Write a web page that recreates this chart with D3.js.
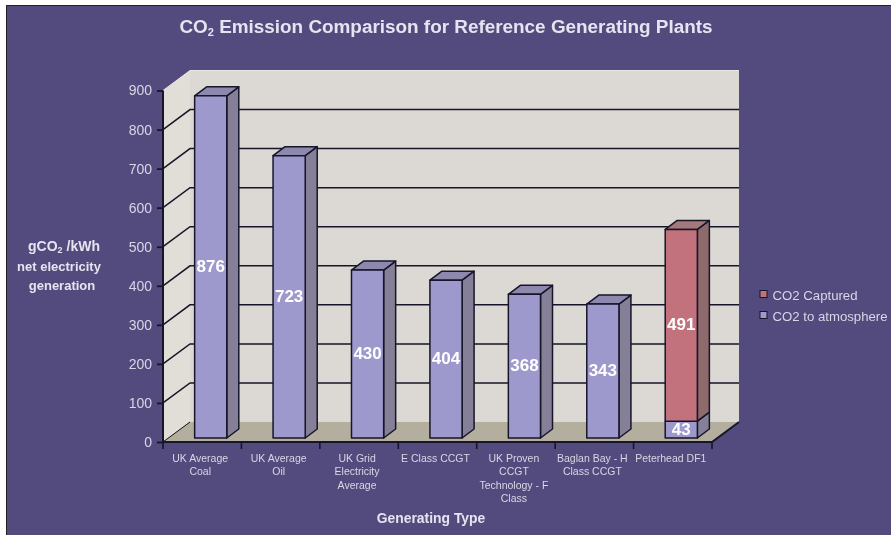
<!DOCTYPE html>
<html>
<head>
<meta charset="utf-8">
<script src="https://cdn.jsdelivr.net/npm/d3@7"></script>
<style>
html, body { margin: 0; padding: 0; background: #fff; }
text { font-family: "Liberation Sans", Arial, sans-serif; }
#chart { filter: blur(0.5px); }
</style>
</head>
<body>
<div id="chart"></div>
<script>
var categories = [
    ["UK Average", "Coal"],
    ["UK Average", "Oil"],
    ["UK Grid", "Electricity", "Average"],
    ["E Class CCGT"],
    ["UK Proven", "CCGT", "Technology - F", "Class"],
    ["Baglan Bay - H", "Class CCGT"],
    ["Peterhead DF1"]
];
var toAtmosphere = [876, 723, 430, 404, 368, 343, 43];
var captured = [0, 0, 0, 0, 0, 0, 491];
var yTicks = [0, 100, 200, 300, 400, 500, 600, 700, 800, 900];
var legendLabels = ["CO2 Captured", "CO2 to atmosphere"];

var width = 891, height = 535;
var bg = "#534b7d", ink = "#17152a", tickInk = "#d9d6e6";

var depthX = 27, depthY = 20;     // floor depth
var barDX = 12, barDY = 9;        // bar side depth
var barShiftX = 8.5, barShiftY = 4; // bars stand a little back from the front edge

var svg = d3.select("#chart").append("svg")
    .attr("width", width)
    .attr("height", height)
    .style("display", "block");

svg.append("rect")
    .attr("x", 6).attr("y", 5)
    .attr("width", width - 6).attr("height", height - 5)
    .attr("fill", bg);
svg.append("path")
    .attr("d", "M6.5," + height + "V5.5H" + width)
    .attr("fill", "none").attr("stroke", "#222").attr("stroke-width", 1);

var x = d3.scaleBand()
    .domain(d3.range(categories.length))
    .range([163, 712])
    .paddingInner(0.59)
    .paddingOuter(0.295);
var y = d3.scaleLinear().domain([0, 900]).range([442, 90.5]);

var x0 = x.range()[0], x1 = x.range()[1];
var yBase = y(0), yTop = y(900);

// walls and floor
svg.append("polygon")
    .attr("points", [[x0 + depthX, yTop - depthY], [x1 + depthX, yTop - depthY], [x1 + depthX, yBase - depthY], [x0 + depthX, yBase - depthY]].join(" "))
    .attr("fill", "#dcd8d3");
svg.append("polygon")
    .attr("points", [[x0, yTop], [x0 + depthX, yTop - depthY], [x0 + depthX, yBase - depthY], [x0, yBase]].join(" "))
    .attr("fill", "#e1ded7");
svg.append("polygon")
    .attr("points", [[x0, yBase], [x0 + depthX, yBase - depthY], [x1 + depthX, yBase - depthY], [x1, yBase]].join(" "))
    .attr("fill", "#b4ae9f");

// top edge highlight of the walls
svg.append("path")
    .attr("d", "M" + x0 + "," + yTop + "L" + (x0 + depthX) + "," + (yTop - depthY) + "H" + (x1 + depthX))
    .attr("fill", "none").attr("stroke", "#e9e6e2").attr("stroke-width", 1);

// gridlines
var grid = svg.append("g");
yTicks.filter(function (d) { return d > 0 && d < 900; }).forEach(function (d) {
    grid.append("path")
        .attr("d", "M" + x0 + "," + y(d) + "L" + (x0 + depthX) + "," + (y(d) - depthY) + "H" + (x1 + depthX))
        .attr("fill", "none").attr("stroke", ink).attr("stroke-width", 1.5);
});

// axes, front edges
svg.append("path")
    .attr("d", "M" + x0 + "," + yTop + "V" + yBase + "H" + x1 + "L" + (x1 + depthX) + "," + (yBase - depthY))
    .attr("fill", "none").attr("stroke", ink).attr("stroke-width", 2);
svg.append("path")
    .attr("d", "M" + x0 + "," + yBase + "L" + (x0 + depthX) + "," + (yBase - depthY))
    .attr("fill", "none").attr("stroke", ink).attr("stroke-width", 1);

var yAxis = d3.axisLeft(y).tickValues(yTicks).tickSize(6).tickPadding(5);
var gy = svg.append("g").attr("transform", "translate(" + x0 + ",0)").call(yAxis);
gy.select(".domain").remove();
gy.selectAll("line").attr("stroke", ink).attr("stroke-width", 1.8);
gy.selectAll("text").attr("fill", tickInk).attr("font-size", 14).style("font-family", '"Liberation Sans", Arial, sans-serif');

// x ticks on the band edges
var edges = d3.range(categories.length + 1).map(function (i) { return x0 + i * x.step(); });
svg.selectAll(".xtick").data(edges).enter().append("line")
    .attr("class", "xtick")
    .attr("x1", function (d) { return d; }).attr("x2", function (d) { return d; })
    .attr("y1", yBase).attr("y2", yBase + 7)
    .attr("stroke", ink).attr("stroke-width", 1.6);

// one 3D segment: side, top, front
function segment(i, from, to, fill, side, topFill, drawTop) {
    var left = x(i) + barShiftX, right = left + x.bandwidth();
    var yA = y(from) - barShiftY, yB = y(to) - barShiftY;
    var g = svg.append("g").attr("stroke", ink).attr("stroke-width", 1.5).attr("stroke-linejoin", "round");
    g.append("polygon")
        .attr("points", [[right, yB], [right + barDX, yB - barDY], [right + barDX, yA - barDY], [right, yA]].join(" "))
        .attr("fill", side);
    if (drawTop) {
        g.append("polygon")
            .attr("points", [[left, yB], [left + barDX, yB - barDY], [right + barDX, yB - barDY], [right, yB]].join(" "))
            .attr("fill", topFill);
    }
    g.append("rect")
        .attr("x", left).attr("y", yB)
        .attr("width", x.bandwidth()).attr("height", yA - yB)
        .attr("fill", fill);
}

function barLabel(i, from, value) {
    svg.append("text")
        .attr("x", x(i) + barShiftX + x.bandwidth() / 2)
        .attr("y", y(from + value / 2) - barShiftY + 5)
        .attr("text-anchor", "middle")
        .attr("fill", "#fff").attr("font-size", 17).attr("font-weight", "bold")
        .text(value);
}

categories.forEach(function (c, i) {
    segment(i, 0, toAtmosphere[i], "#9d99cd", "#858097", "#8d88ad", captured[i] === 0);
    barLabel(i, 0, toAtmosphere[i]);
    if (captured[i] > 0) {
        segment(i, toAtmosphere[i], toAtmosphere[i] + captured[i], "#c2727c", "#8f6a6c", "#a5787c", true);
        barLabel(i, toAtmosphere[i], captured[i]);
    }
});

// category labels
categories.forEach(function (lines, i) {
    var t = svg.append("text")
        .attr("text-anchor", "middle")
        .attr("fill", tickInk)
        .attr("font-size", 10.5);
    lines.forEach(function (line, j) {
        t.append("tspan")
            .attr("x", x(i) + x.bandwidth() / 2 - 2)
            .attr("y", 462 + j * 13.4)
            .text(line);
    });
});

// title
var title = svg.append("text")
    .attr("x", 446).attr("y", 33)
    .attr("text-anchor", "middle")
    .attr("fill", "#e6e4f0").attr("font-size", 18.9).attr("font-weight", "bold");
title.append("tspan").text("CO");
title.append("tspan").attr("font-size", 11).attr("dy", 3).text("2");
title.append("tspan").attr("dy", -3).text(" Emission Comparison for Reference Generating Plants");

// y title
var yt = svg.append("g")
    .attr("fill", "#e6e4f0").attr("font-size", 13).attr("font-weight", "bold")
    .attr("text-anchor", "middle");
var yt1 = yt.append("text").attr("x", 64).attr("y", 251).attr("font-size", 14);
yt1.append("tspan").text("gCO");
yt1.append("tspan").attr("font-size", 9).attr("dy", 2).text("2");
yt1.append("tspan").attr("dy", -2).text(" /kWh");
yt.append("text").attr("x", 59).attr("y", 270.5).text("net electricity");
yt.append("text").attr("x", 62).attr("y", 290).text("generation");

svg.append("text")
    .attr("x", 431).attr("y", 523)
    .attr("text-anchor", "middle")
    .attr("fill", "#e6e4f0").attr("font-size", 13.9).attr("font-weight", "bold")
    .text("Generating Type");

// legend
var legendColors = ["#c2727c", "#9d99cd"];
legendLabels.forEach(function (label, i) {
    var ly = 295 + i * 21;
    svg.append("rect")
        .attr("x", 760).attr("y", ly - 4.5)
        .attr("width", 7).attr("height", 7)
        .attr("fill", legendColors[i])
        .attr("stroke", ink).attr("stroke-width", 1);
    svg.append("text")
        .attr("x", 772.5).attr("y", ly + 4.5)
        .attr("fill", tickInk).attr("font-size", 13.2)
        .text(label);
});
</script>
</body>
</html>
